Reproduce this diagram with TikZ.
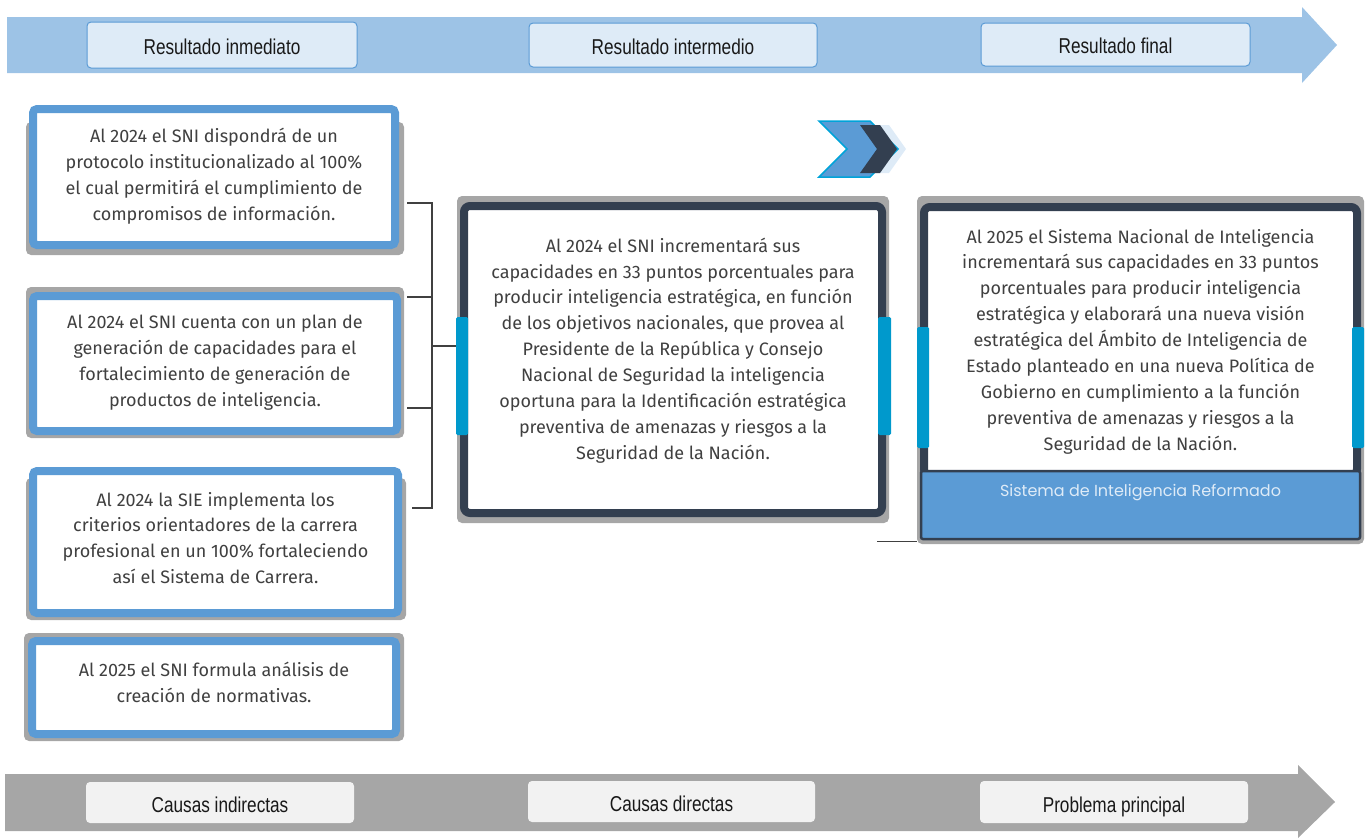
\documentclass[tikz,border=0pt]{standalone}
\usepackage{fontspec}
\setmainfont{Fira Sans}
\newfontfamily\labfont[FakeStretch=0.8]{Liberation Sans}
\newfontfamily\popfont{Poppins}
\usetikzlibrary{calc}
\definecolor{topband}{HTML}{9DC3E6}
\definecolor{botband}{HTML}{A6A6A6}
\definecolor{lightfill}{HTML}{DEEBF7}
\definecolor{midblue}{HTML}{5B9BD5}
\definecolor{navy}{HTML}{333F50}
\definecolor{tabcol}{HTML}{0099CC}
\definecolor{cyanline}{HTML}{00A3D9}
\definecolor{txt}{HTML}{404040}
\definecolor{labfill}{HTML}{F2F2F2}
\definecolor{shadowc}{HTML}{A6A6A6}
\tikzset{
  toplab/.style={draw=midblue, line width=1pt, fill=lightfill, rounded corners=4pt, inner sep=0pt, font=\labfont\fontsize{21.5}{24}\selectfont, text=black!90, text height=18pt, text depth=0pt},
  botlab/.style={fill=labfill, rounded corners=4pt, inner sep=0pt, font=\labfont\fontsize{21.5}{24}\selectfont, text=black!90, text height=20pt, text depth=0pt},
  shadowbox/.style={fill=shadowc, rounded corners=5pt, draw=none},
  leftbox/.style={draw=midblue, line width=8pt, fill=white, rounded corners=4pt, inner sep=0pt},
  navybox/.style={draw=navy, line width=8pt, fill=white, rounded corners=6pt, inner sep=0pt},
  bodytext/.style={align=center, text=txt, font=\fontsize{18}{25.9}\selectfont, inner sep=0pt},
  tab/.style={fill=tabcol, draw=none, rounded corners=1.5pt},
  conn/.style={draw=txt, line width=1.2pt},
}
\begin{document}
\begin{tikzpicture}[x=1pt,y=-1pt]
\useasboundingbox (0,0) rectangle (1365,838);
% top band arrow
\fill[topband] (7,17) -- (1302,17) -- (1302,7) -- (1337,45) -- (1302,83) -- (1302,73) -- (7,73) -- cycle;
\node[toplab, minimum width=270pt, minimum height=46pt] (ri) at (222,45) {Resultado inmediato};
\node[toplab, minimum width=288pt, minimum height=44pt] (rm) at (673,45) {Resultado intermedio};
\node[toplab, minimum width=269pt, minimum height=43pt] (rf) at (1115.5,44.5) {Resultado final};
% bottom band arrow
\fill[botband] (5,774) -- (1298,774) -- (1298,765) -- (1335,802) -- (1298,838) -- (1298,831) -- (5,831) -- cycle;
\node[botlab, minimum width=268pt, minimum height=41pt] (ci) at (220,802.5) {Causas indirectas};
\node[botlab, minimum width=287pt, minimum height=41pt] (cd) at (671.5,801.5) {Causas directas};
\node[botlab, minimum width=268pt, minimum height=42pt] (pp) at (1114,802) {Problema principal};
% left boxes
\fill[shadowbox] (26,122) rectangle (404,255);
\node[leftbox, minimum width=362pt, minimum height=136pt] (b1) at (214,177) {};
\node[bodytext] (t1) at (214,176.5) {Al 2024 el SNI dispondrá de un\\protocolo institucionalizado al 100\%\\el cual permitirá el cumplimiento de\\compromisos de información.};
\fill[shadowbox] (26,287) rectangle (404,438);
\node[leftbox, minimum width=364pt, minimum height=135pt] (b2) at (215,363.5) {};
\node[bodytext] (t2) at (215,362.5) {Al 2024 el SNI cuenta con un plan de\\generación de capacidades para el\\fortalecimiento de generación de\\productos de inteligencia.};
\fill[shadowbox] (26,478) rectangle (406,620);
\node[leftbox, minimum width=365pt, minimum height=142pt] (b3) at (215.5,542) {};
\node[bodytext] (t3) at (215.5,538) {Al 2024 la SIE implementa los\\criterios orientadores de la carrera\\profesional en un 100\% fortaleciendo\\así el Sistema de Carrera.};
\fill[shadowbox] (24,633) rectangle (404,741);
\node[leftbox, minimum width=364pt, minimum height=93pt] (b4) at (214,687.5) {};
\node[bodytext] (t4) at (214,682.5) {Al 2025 el SNI formula análisis de\\creación de normativas.};
% middle box
\fill[shadowbox] (457,196) rectangle (889,523);
\node[navybox, minimum width=418pt, minimum height=307pt] (mid) at (673,359.5) {};
\node[bodytext] (tm) at (673,350.5) {Al 2024 el SNI incrementará sus\\capacidades en 33 puntos porcentuales para\\producir inteligencia estratégica, en función\\de los objetivos nacionales, que provea al\\Presidente de la República y Consejo\\Nacional de Seguridad la inteligencia\\oportuna para la Identificación estratégica\\preventiva de amenazas y riesgos a la\\Seguridad de la Nación.};
% connectors (bracket)
\coordinate (s1) at (407,203);
\coordinate (s2) at (407,297);
\coordinate (s3) at (407,408);
\coordinate (s4) at (412,508);
\coordinate (bx) at (432,346);
\draw[conn] (s1) -| (bx);
\draw[conn] (s2) -| (bx);
\draw[conn] (s3) -| (bx);
\draw[conn] (s4) -| (bx);
\draw[conn] (bx) -- (mid.west |- bx);
\fill[tab] (456,317) rectangle (468,435);
\fill[tab] (878,317) rectangle (891,435);
% right box
\node[shadowbox, minimum width=447pt, minimum height=348pt, inner sep=0pt] (rs) at (1140.5,370) {};
\node[navybox, minimum width=433pt, minimum height=268pt] (rb) at (1140.5,341) {};
\node[bodytext] (tr) at (1140.5,341.5) {Al 2025 el Sistema Nacional de Inteligencia\\incrementará sus capacidades en 33 puntos\\porcentuales para producir inteligencia\\estratégica y elaborará una nueva visión\\estratégica del Ámbito de Inteligencia de\\Estado planteado en una nueva Política de\\Gobierno en cumplimiento a la función\\preventiva de amenazas y riesgos a la\\Seguridad de la Nación.};
\node[draw=navy, line width=2.5pt, fill=midblue, rounded corners=2pt, minimum width=439pt, minimum height=68pt, inner sep=0pt] (sir) at (1140.5,505) {};
\node[text=lightfill, font=\popfont\fontsize{16}{18}\selectfont, inner sep=0pt] (tsir) at (1140.5,493) {Sistema de Inteligencia Reformado};
\fill[tab] (917,327) rectangle (929,448);
\fill[tab] (1352,327) rectangle (1364,448);
\coordinate (s5) at (877,541);
\draw[conn, line width=1pt] (s5) -- (rs.west |- s5);
% chevrons
\fill[lightfill] (867,125) -- (889,125) -- (906,149) -- (889,173) -- (867,173) -- (884,149) -- cycle;
\filldraw[fill=midblue, draw=cyanline, line width=1.5pt] (819,121) -- (870,121) -- (898,149) -- (870,177) -- (819,177) -- (847,149) -- cycle;
\fill[navy] (860,125) -- (880,125) -- (897,149) -- (880,173) -- (860,173) -- (877,149) -- cycle;
\end{tikzpicture}
\end{document}
